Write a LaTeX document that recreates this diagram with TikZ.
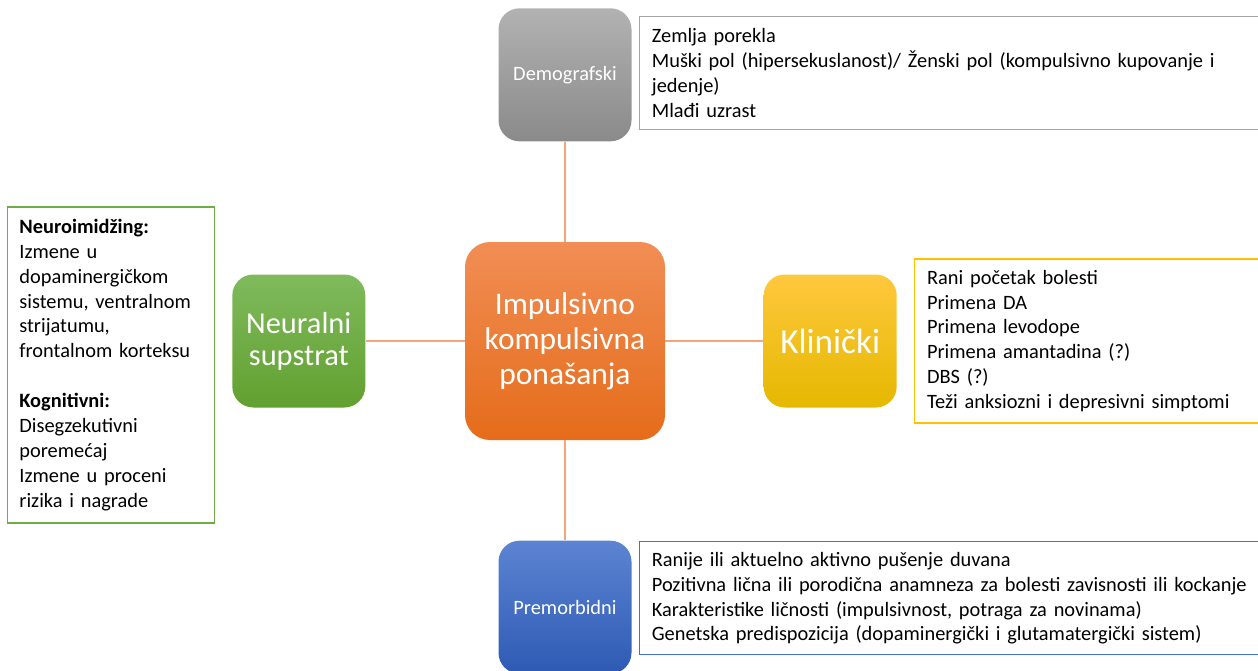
\documentclass[tikz,border=0pt]{standalone}
\usepackage{fontspec}
\setmainfont{Carlito}
\usepackage{xcolor}
\usepackage{tikz}
\usetikzlibrary{positioning}

\definecolor{hubtop}{RGB}{241,142,85}
\definecolor{hubbot}{RGB}{229,108,26}
\definecolor{greentop}{RGB}{127,186,92}
\definecolor{greenbot}{RGB}{98,160,48}
\definecolor{yellowtop}{RGB}{255,200,62}
\definecolor{yellowbot}{RGB}{229,184,0}
\definecolor{graytop}{RGB}{178,178,178}
\definecolor{graybot}{RGB}{138,138,138}
\definecolor{bluetop}{RGB}{92,132,210}
\definecolor{bluebot}{RGB}{46,90,180}
\definecolor{grayline}{RGB}{165,165,165}
\definecolor{greenline}{RGB}{112,173,71}
\definecolor{yellowline}{RGB}{255,192,0}
\definecolor{blueline}{RGB}{68,114,196}
\definecolor{linkcol}{RGB}{244,166,120}

\begin{document}
\begin{tikzpicture}[node distance=2cm]
    % Define styles
    \tikzstyle{hub} = [rectangle, rounded corners=0.5cm, minimum width=4cm, minimum height=3.96cm, align=center, text=white, top color=hubtop, bottom color=hubbot, font=\fontsize{17.9}{20}\selectfont]
    \tikzstyle{factor} = [rectangle, rounded corners=0.42cm, minimum width=2.66cm, minimum height=2.66cm, align=center, text=white, font=\fontsize{17.3}{18.2}\selectfont]
    \tikzstyle{info} = [rectangle, draw, line width=0.6pt, inner xsep=0.24cm, align=left, fill=white, font=\fontsize{11.6}{14.2}\selectfont]
    \tikzstyle{link} = [linkcol, line width=0.6pt]

    \useasboundingbox (0,0) rectangle (25.16,-13.42);

    % Nodes
    \node (hub) [hub] at (11.3,-6.82) {Impulsivno\\kompulsivna\\ponašanja};

    \node (demo) [factor, above=2cm of hub, top color=graytop, bottom color=graybot, font=\fontsize{11.6}{13}\selectfont] {Demografski};
    \node (neural) [factor, left=1.98cm of hub, top color=greentop, bottom color=greenbot] {Neuralni\\supstrat};
    \node (clin) [factor, right=1.96cm of hub, top color=yellowtop, bottom color=yellowbot, font=\fontsize{20}{22}\selectfont] {Klinički};
    \node (premorb) [factor, below=2cm of hub, top color=bluetop, bottom color=bluebot, font=\fontsize{11.6}{13}\selectfont] {Premorbidni};

    \node (demoinfo) [info, draw=grayline, right=0.14cm of demo, minimum width=12.4cm, minimum height=2.26cm, text width=11.9cm, yshift=0.04cm] {Zemlja porekla\\Muški pol (hipersekuslanost)/ Ženski pol (kompulsivno kupovanje i\\jedenje)\\Mlađi uzrast};
    \node (neuralinfo) [info, draw=greenline, left=0.34cm of neural, minimum width=4.14cm, minimum height=6.32cm, text width=3.66cm, yshift=-0.48cm] {\textbf{Neuroimidžing:}\\Izmene u\\dopaminergičkom\\sistemu, ventralnom\\strijatumu,\\frontalnom korteksu\\[14.2pt]\textbf{Kognitivni:}\\Disegzekutivni\\poremećaj\\Izmene u proceni\\rizika i nagrade};
    \node (clininfo) [info, draw=yellowline, right=0.34cm of clin, minimum width=6.9cm, minimum height=3.28cm, text width=6.4cm] {Rani početak bolesti\\Primena DA\\Primena levodope\\Primena amantadina (?)\\DBS (?)\\Teži anksiozni i depresivni simptomi};
    \node (premorbinfo) [info, draw=blueline, right=0.14cm of premorb, minimum width=12.4cm, minimum height=2.26cm, text width=11.9cm, yshift=0.18cm] {Ranije ili aktuelno aktivno pušenje duvana\\Pozitivna lična ili porodična anamneza za bolesti zavisnosti ili kockanje\\Karakteristike ličnosti (impulsivnost, potraga za novinama)\\Genetska predispozicija (dopaminergički i glutamatergički sistem)};

    % Lines
    \draw [link] (hub) -- (demo);
    \draw [link] (hub) -- (neural);
    \draw [link] (hub) -- (clin);
    \draw [link] (hub) -- (premorb);
\end{tikzpicture}
\end{document}
